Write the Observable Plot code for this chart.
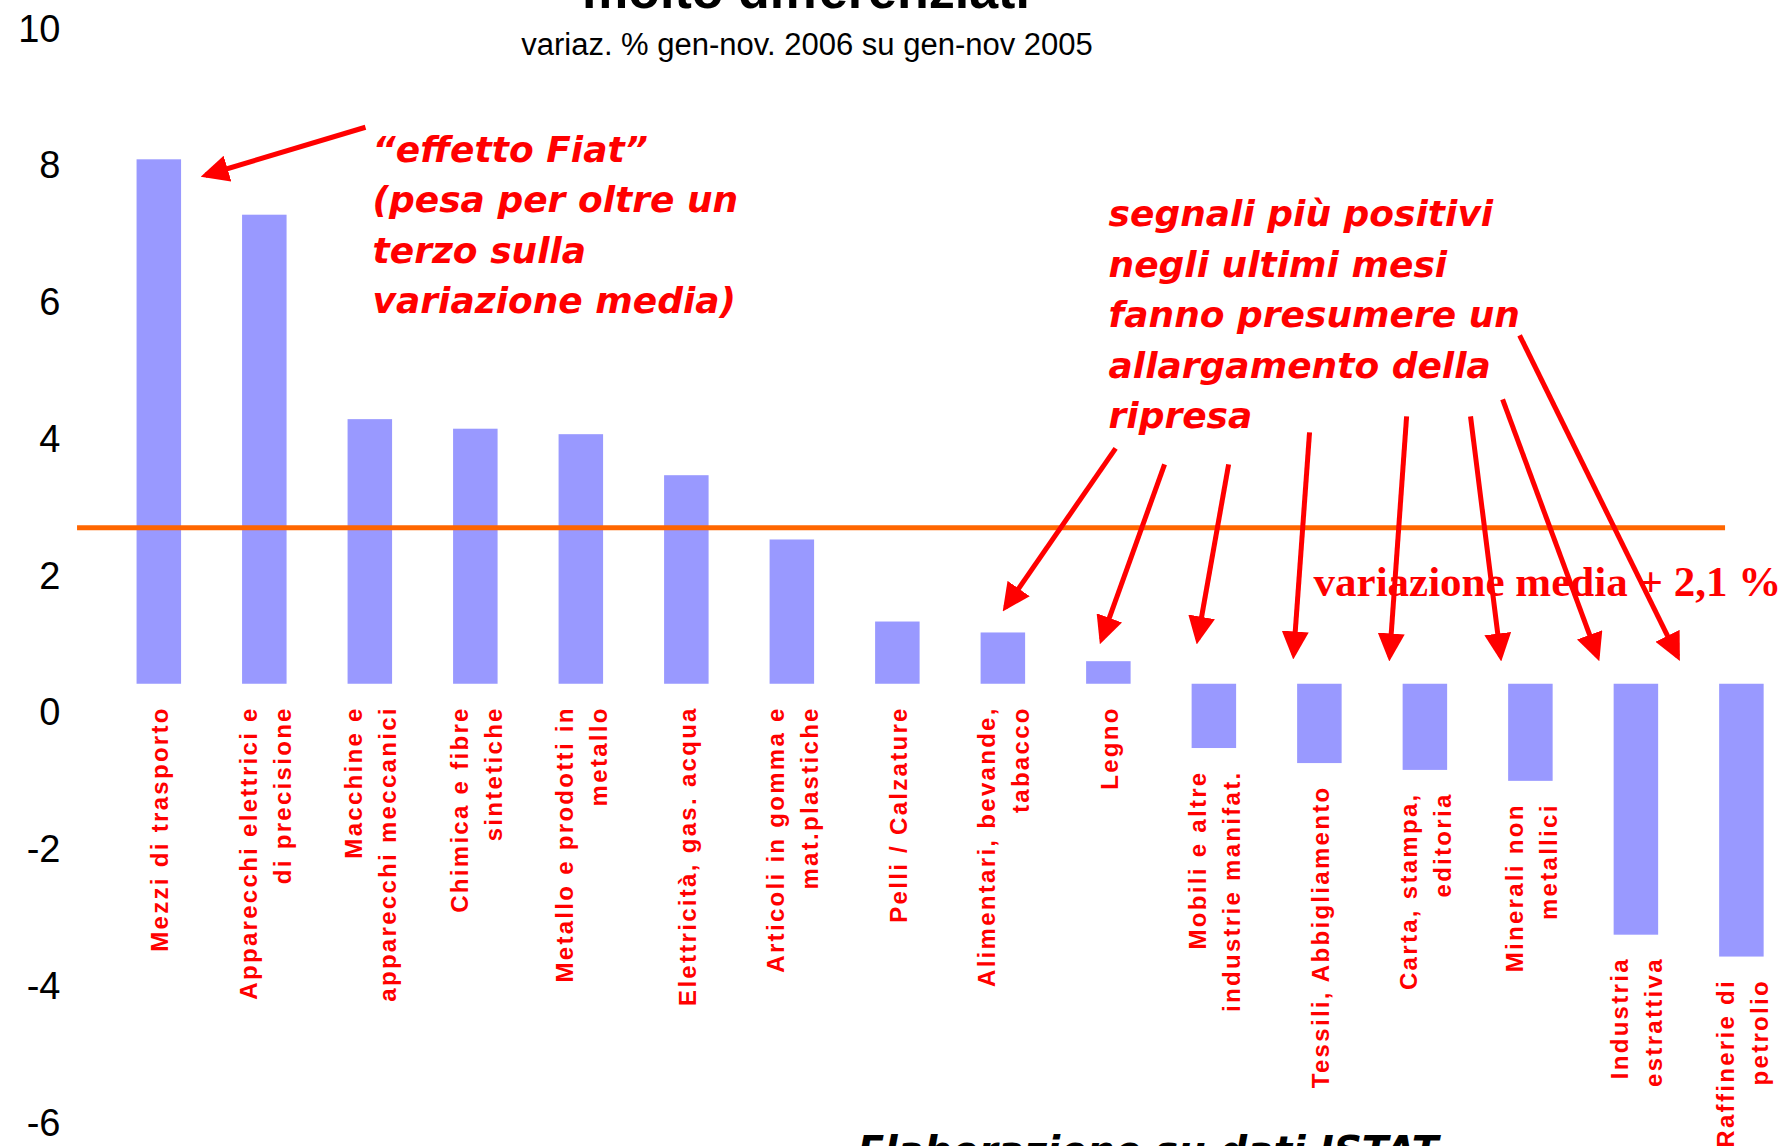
<!DOCTYPE html>
<html>
<head>
<meta charset="utf-8">
<script src="https://cdn.jsdelivr.net/npm/d3@7"></script>
<script src="https://cdn.jsdelivr.net/npm/@observablehq/plot@0.6"></script>
<style>
  html, body { margin: 0; padding: 0; background: #fff; overflow: hidden; }
  #wrap { position: relative; width: 1778px; height: 1146px; }
  #chart { position: absolute; left: 0; top: 0; }
  .titolo { position: absolute; left: 0; width: 1612px; top: -36px; text-align: center;
            font: bold 52px/52px "Liberation Sans", Arial, sans-serif; color: #000; white-space: nowrap; }
  .sottotitolo { position: absolute; left: 0; width: 1614px; top: 29px; text-align: center;
            font: 31px/31px "Liberation Sans", Arial, sans-serif; color: #000; white-space: nowrap; }
  .fonte { position: absolute; left: 0; width: 2296px; top: 1131px; text-align: center;
            font: italic bold 39px/39px "DejaVu Sans", sans-serif; color: #000; white-space: nowrap; }
</style>
</head>
<body>
<div id="wrap">
  <div id="chart"></div>
  <div class="titolo">molto differenziati</div>
  <div class="sottotitolo">variaz. % gen-nov. 2006 su gen-nov 2005</div>
  <div class="fonte">Elaborazione su dati ISTAT</div>
</div>
<script>
// ---- data ----
const categorie = [
  "Mezzi di trasporto",
  "Apparecchi elettrici e\ndi precisione",
  "Macchine e\napparecchi meccanici",
  "Chimica e fibre\nsintetiche",
  "Metallo e prodotti in\nmetallo",
  "Elettricità, gas. acqua",
  "Articoli in gomma e\nmat.plastiche",
  "Pelli / Calzature",
  "Alimentari, bevande,\ntabacco",
  "Legno",
  "Mobili e altre\nindustrie manifat.",
  "Tessili, Abbigliamento",
  "Carta, stampa,\neditoria",
  "Minerali non\nmetallici",
  "Industria\nestrattiva",
  "Raffinerie di\npetrolio"
];
const valori = [7.67, 6.86, 3.87, 3.73, 3.65, 3.05, 2.11, 0.91, 0.75, 0.33, -0.94, -1.16, -1.26, -1.42, -3.67, -3.99];
const yTicks = [10, 8, 6, 4, 2, 0, -2, -4, -6];
const variazioneMedia = [2.29];          // orange reference line
const estensioneMedia = [-0.775, 14.845]; // horizontal extent of the line (category index units)

// annotation arrows: start (index, value) -> tip (index, value)
const frecceX1 = [1.954, 9.064, 9.528, 10.135, 10.902, 11.822, 12.428, 12.732, 12.893];
const frecceY1 = [8.146, 3.450, 3.216, 3.216, 3.684, 3.918, 3.918, 4.167, 5.103];
const frecceX2 = [0.438, 8.021, 8.931, 9.841, 10.751, 11.661, 12.713, 13.632, 14.391];
const frecceY2 = [7.444, 1.124, 0.655, 0.655, 0.436, 0.407, 0.407, 0.407, 0.407];

const noteTesti = [
  "“effetto Fiat”\n(pesa per oltre un\nterzo sulla\nvariazione media)",
  "segnali più positivi\nnegli ultimi mesi\nfanno presumere un\nallargamento della\nripresa"
];
const noteX = [2.021, 8.997];
const noteY = [8.16, 7.22];
const etichettaMedia = ["variazione media + 2,1 %"];
const etichettaMediaX = [10.94];
const etichettaMediaY = [1.486];

// ---- tables ----
const dati = categorie.map((c, i) => ({i, categoria: c, valore: valori[i]}));
const frecce = frecceX1.map((x, k) => ({x1: x, y1: frecceY1[k], x2: frecceX2[k], y2: frecceY2[k]}));
const note = noteTesti.map((t, k) => ({t, x: noteX[k], y: noteY[k]}));
const media = etichettaMedia.map((t, k) => ({t, x: etichettaMediaX[k], y: etichettaMediaY[k]}));

const chart = Plot.plot({
  width: 1778,
  height: 1146,
  marginLeft: 126,
  marginRight: 4,
  marginTop: 0,
  marginBottom: 52,
  style: {background: "white", fontFamily: "'Liberation Sans', Arial, sans-serif", overflow: "visible"},
  x: {type: "linear", domain: [-0.311, 15.309], axis: null},
  y: {domain: [-6, 10], axis: null},
  marks: [
    Plot.rectY(dati, {x1: d => d.i - 0.5, x2: d => d.i + 0.5, y: "valore", fill: "#9999ff", insetLeft: 30.5, insetRight: 30.5}),
    Plot.ruleY(variazioneMedia, {x1: estensioneMedia[0], x2: estensioneMedia[1], stroke: "#ff6600", strokeWidth: 5}),
    Plot.axisY({ticks: yTicks, tickFormat: d => String(d), tickSize: 0, tickPadding: 66, dy: 29,
                fontSize: 38, fontFamily: "'Liberation Sans', Arial, sans-serif", label: null, fill: "#000"}),
    Plot.text(dati, {x: "i", y: d => Math.min(0, d.valore), text: "categoria", rotate: -90,
                     textAnchor: "end", lineAnchor: "middle", lineHeight: 1.42, dy: 22, dx: -2,
                     fill: "#ff0000", fontSize: 24, fontWeight: "bold",
                     fontFamily: "'Liberation Sans', Arial, sans-serif"}),
    Plot.text(note, {x: "x", y: "y", text: "t", textAnchor: "start", lineAnchor: "top", lineHeight: 1.4,
                     fill: "#ff0000", fontSize: 36, fontWeight: "bold", fontStyle: "italic",
                     fontFamily: "'Comic Sans MS', 'DejaVu Sans', sans-serif"}),
    Plot.text(media, {x: "x", y: "y", text: "t", textAnchor: "start", lineAnchor: "middle",
                      fill: "#ff0000", fontSize: 43, fontWeight: "bold",
                      fontFamily: "'Liberation Serif', 'Times New Roman', serif"}),
    Plot.link(frecce, {x1: "x1", y1: "y1", x2: "x2", y2: "y2", stroke: "#ff0000", strokeWidth: 5})
  ]
});

// filled arrow heads
const ns = "http://www.w3.org/2000/svg";
const defs = document.createElementNS(ns, "defs");
const marker = document.createElementNS(ns, "marker");
marker.setAttribute("id", "punta-freccia");
marker.setAttribute("viewBox", "0 0 10 10");
marker.setAttribute("refX", "8.2");
marker.setAttribute("refY", "5");
marker.setAttribute("markerWidth", "28");
marker.setAttribute("markerHeight", "27");
marker.setAttribute("markerUnits", "userSpaceOnUse");
marker.setAttribute("orient", "auto");
marker.setAttribute("preserveAspectRatio", "none");
const tri = document.createElementNS(ns, "path");
tri.setAttribute("d", "M0,0L10,5L0,10Z");
tri.setAttribute("fill", "#ff0000");
tri.setAttribute("stroke", "none");
marker.appendChild(tri);
defs.appendChild(marker);
chart.insertBefore(defs, chart.firstChild);

const linkGroup = chart.querySelector('g[aria-label="link"]');
if (linkGroup) linkGroup.querySelectorAll("path").forEach(p => p.setAttribute("marker-end", "url(#punta-freccia)"));
const textGroups = chart.querySelectorAll('g[aria-label="text"]');
if (textGroups.length) textGroups[0].querySelectorAll("text").forEach(t => t.setAttribute("letter-spacing", "2.3"));

document.getElementById("chart").appendChild(chart);
</script>
</body>
</html>
